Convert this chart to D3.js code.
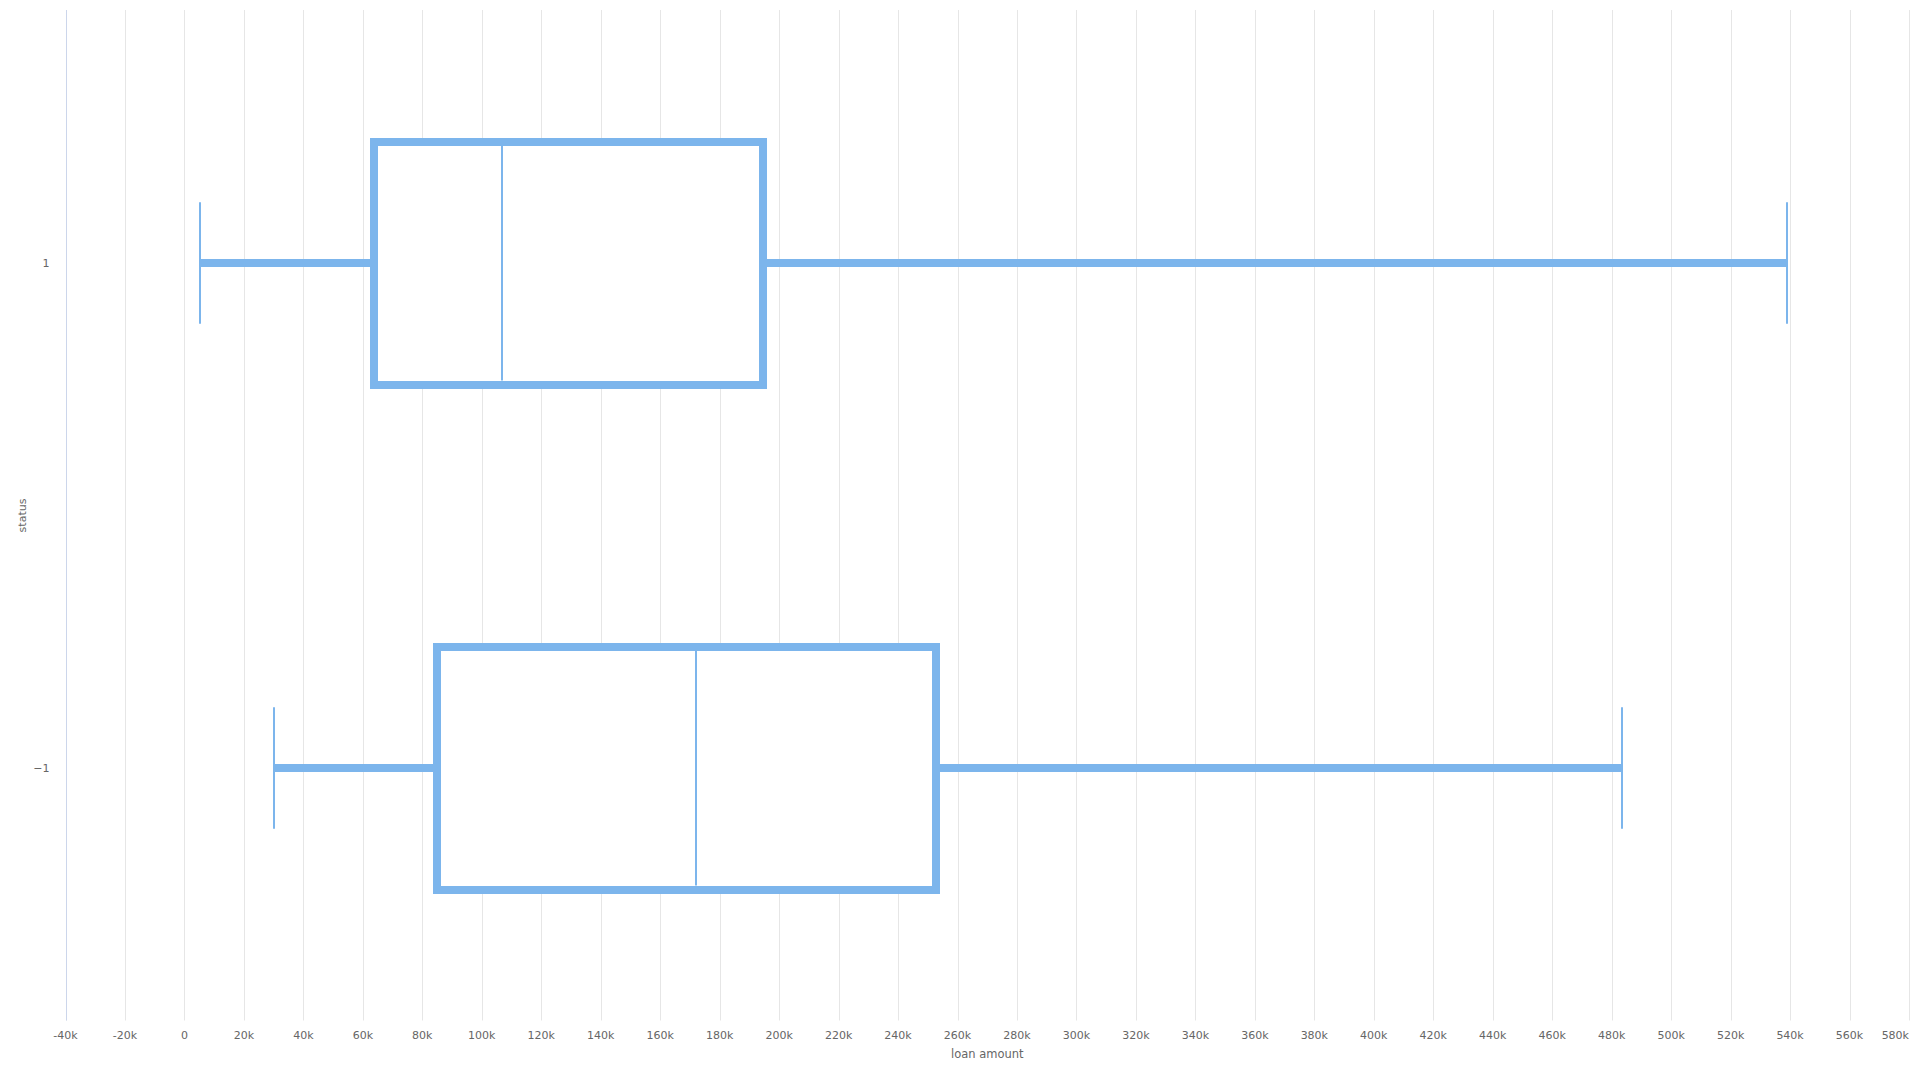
<!DOCTYPE html>
<html>
<head>
<meta charset="utf-8">
<script src="https://cdn.jsdelivr.net/npm/d3@7"></script>
<style>
  html, body { margin: 0; padding: 0; background: #ffffff; }
  svg { display: block; }
  text { font-family: "DejaVu Sans", sans-serif; }
</style>
</head>
<body>
<svg id="chart" width="1920" height="1080"></svg>
<script>
// ---- data ----
const categories = ["1", "-1"];
const lowValues = [5300, 30000];
const q1Values = [63800, 85000];
const medianValues = [106800, 172000];
const q3Values = [194600, 252800];
const highValues = [538900, 483400];
const tickValues = [-40000, -20000, 0, 20000, 40000, 60000, 80000, 100000, 120000, 140000,
  160000, 180000, 200000, 220000, 240000, 260000, 280000, 300000, 320000, 340000, 360000,
  380000, 400000, 420000, 440000, 460000, 480000, 500000, 520000, 540000, 560000, 580000];
const xTitle = "loan amount";
const yTitle = "status";

const rows = categories.map((c, i) => ({
  cat: c, low: lowValues[i], q1: q1Values[i], median: medianValues[i], q3: q3Values[i], high: highValues[i]
}));

const W = 1920, H = 1080;
const plot = { left: 65.5, right: 1909, top: 10.5, bottom: 1020.5 };
const color = "#7cb5ec";

const svg = d3.select("#chart");

const x = d3.scaleLinear().domain([-40000, 580000]).range([plot.left, plot.right]);
const y = d3.scaleBand().domain(categories).range([plot.top, plot.bottom]);

const fmt = v => v === 0 ? "0" : (v < 0 ? "-" : "") + Math.abs(v / 1000) + "k";

// grid lines
const crisp = v => Math.round(v) + 0.5;
svg.append("g").selectAll("line").data(tickValues).join("line")
  .attr("x1", d => crisp(x(d))).attr("x2", d => crisp(x(d)))
  .attr("y1", plot.top - 0.5).attr("y2", plot.bottom)
  .attr("stroke", "#e6e6e6").attr("stroke-width", 1);

// category axis line
svg.append("line")
  .attr("x1", crisp(plot.left)).attr("x2", crisp(plot.left))
  .attr("y1", plot.top - 0.5).attr("y2", plot.bottom)
  .attr("stroke", "#ccd6eb").attr("stroke-width", 1);

// x tick labels
const lastTick = tickValues[tickValues.length - 1];
svg.append("g").selectAll("text").data(tickValues).join("text")
  .attr("x", d => d === lastTick ? plot.right : x(d))
  .attr("y", 1039)
  .attr("text-anchor", d => d === lastTick ? "end" : "middle")
  .attr("font-size", 11)
  .attr("fill", "#666666")
  .text(fmt);

// y category labels
svg.append("g").selectAll("text").data(categories).join("text")
  .attr("x", 49.5)
  .attr("y", d => y(d) + y.bandwidth() / 2 + 4)
  .attr("text-anchor", "end")
  .attr("font-size", 11)
  .attr("fill", "#666666")
  .text(d => d === "-1" ? "\u22121" : d);

// axis titles
svg.append("text")
  .attr("x", (plot.left + plot.right) / 2)
  .attr("y", 1058)
  .attr("text-anchor", "middle")
  .attr("font-size", 11.5)
  .attr("fill", "#666666")
  .text(xTitle);

svg.append("text")
  .attr("transform", `translate(25.5, ${(plot.top + plot.bottom) / 2}) rotate(-90)`)
  .attr("text-anchor", "middle")
  .attr("font-size", 11)
  .attr("fill", "#666666")
  .text(yTitle);

// box plots
const boxH = y.bandwidth() * 0.481;
const g = svg.append("g").selectAll("g").data(rows).join("g");
const cy = d => Math.round(y(d.cat) + y.bandwidth() / 2);

// stems
g.append("line")
  .attr("x1", d => x(d.low)).attr("x2", d => x(d.q1))
  .attr("y1", cy).attr("y2", cy)
  .attr("stroke", color).attr("stroke-width", 8);
g.append("line")
  .attr("x1", d => x(d.q3)).attr("x2", d => x(d.high))
  .attr("y1", cy).attr("y2", cy)
  .attr("stroke", color).attr("stroke-width", 8);

// boxes
g.append("rect")
  .attr("x", d => Math.round(x(d.q1)))
  .attr("y", d => Math.round(cy(d) - boxH / 2))
  .attr("width", d => Math.round(x(d.q3)) - Math.round(x(d.q1)))
  .attr("height", Math.round(boxH))
  .attr("fill", "#ffffff")
  .attr("stroke", color).attr("stroke-width", 8);

// medians
g.append("line")
  .attr("x1", d => Math.round(x(d.median))).attr("x2", d => Math.round(x(d.median)))
  .attr("y1", d => cy(d) - boxH / 2 + 4).attr("y2", d => cy(d) + boxH / 2 - 4)
  .attr("stroke", color).attr("stroke-width", 2);

// whiskers
g.append("line")
  .attr("x1", d => Math.round(x(d.low))).attr("x2", d => Math.round(x(d.low)))
  .attr("y1", d => cy(d) - boxH / 4).attr("y2", d => cy(d) + boxH / 4)
  .attr("stroke", color).attr("stroke-width", 2);
g.append("line")
  .attr("x1", d => Math.round(x(d.high))).attr("x2", d => Math.round(x(d.high)))
  .attr("y1", d => cy(d) - boxH / 4).attr("y2", d => cy(d) + boxH / 4)
  .attr("stroke", color).attr("stroke-width", 2);
</script>
</body>
</html>
